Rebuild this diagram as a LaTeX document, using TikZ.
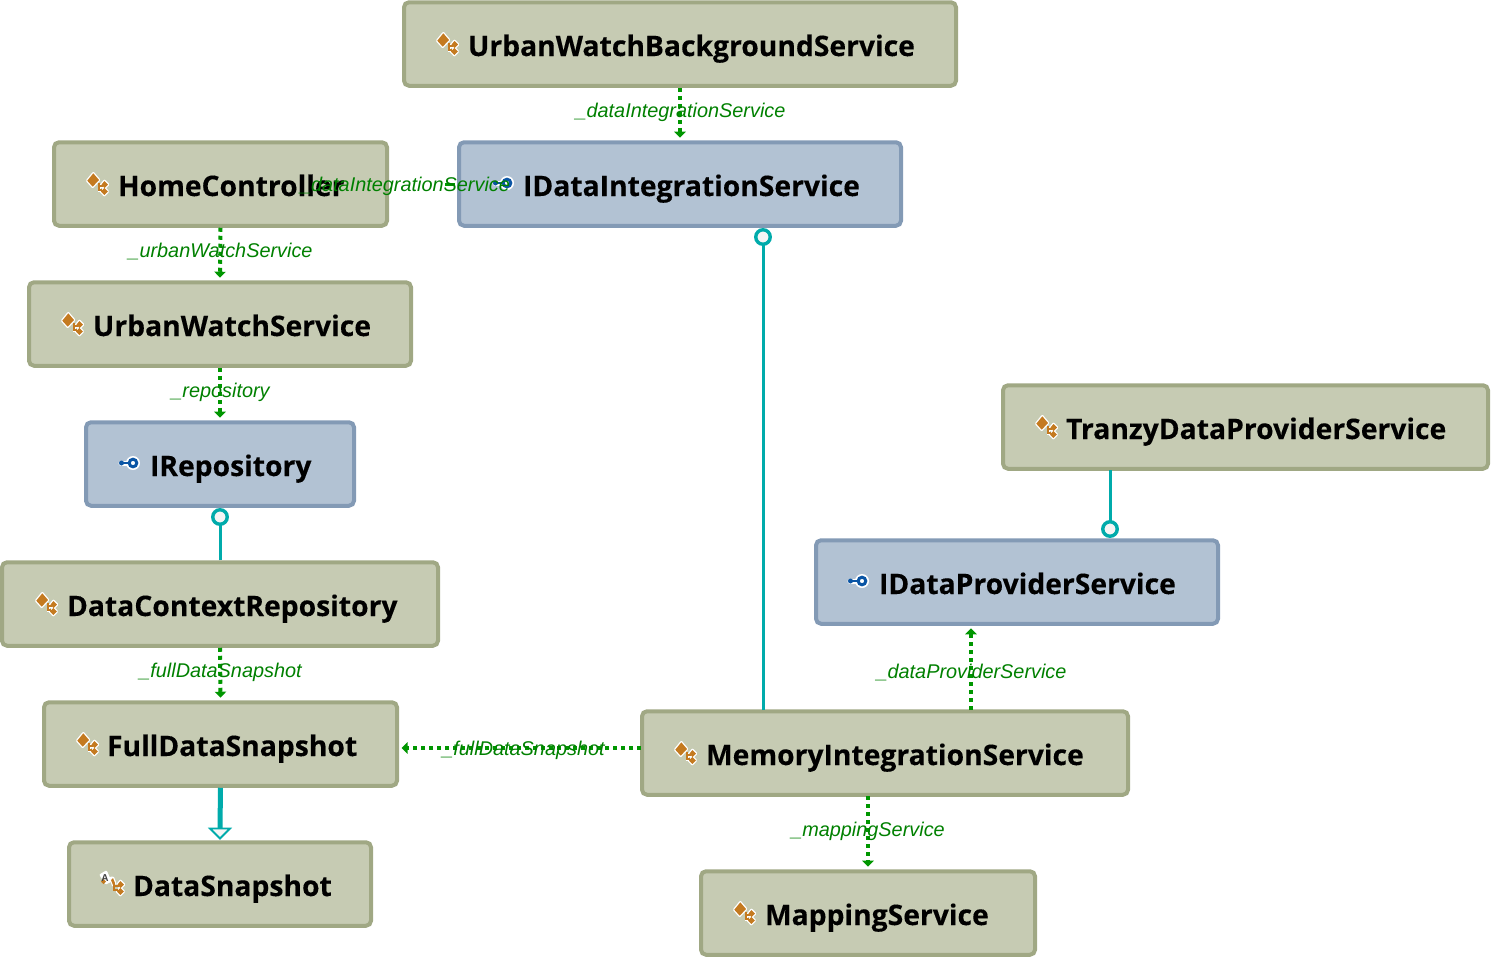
\documentclass[tikz,border=0pt]{standalone}
\usepackage{fontspec}
\setmainfont{Open Sans}[BoldFeatures={FakeBold=0.25}]
\newfontfamily\lblfont{Liberation Sans}
\usetikzlibrary{arrows.meta}
\definecolor{clsfill}{HTML}{C6CBB3}
\definecolor{clsline}{HTML}{A0A884}
\definecolor{ifcfill}{HTML}{B2C2D3}
\definecolor{ifcline}{HTML}{839AB5}
\definecolor{dep}{HTML}{009600}
\definecolor{lbl}{HTML}{008000}
\definecolor{teal}{HTML}{00ABAB}
\definecolor{icon}{HTML}{C47A20}
\definecolor{iblue}{HTML}{0A55A5}
\newlength{\px}\setlength{\px}{0.75pt}
\tikzset{
  x=\px,y=-\px,
  every node/.style={inner sep=0pt,outer sep=0pt},
  boxbase/.style={rectangle,rounded corners=5\px,line width=4\px,minimum height=83.5\px,outer sep=2\px},
  clsbox/.style={boxbase,draw=clsline,fill=clsfill},
  ifcbox/.style={boxbase,draw=ifcline,fill=ifcfill},
  title/.style={font=\bfseries\fontsize{21.2pt}{24pt}\selectfont,text=black,anchor=base west},
  deplabel/.style={font=\lblfont\itshape\fontsize{14.9pt}{16pt}\selectfont,text=lbl},
  depline/.style={draw=dep,line width=4\px,dash pattern=on 4\px off 4\px,shorten >=1.9pt,-{Triangle[width=8.5pt,length=4.5pt]}},
  hiddenline/.style={draw=dep,line width=3\px,dash pattern=on 0\px off 56\px on 10\px off 100\px},
  lollipop/.style={draw=teal,line width=3\px},
  lolli/.style={circle,draw=teal,fill=white!96!black,line width=3.4\px,minimum size=14.5\px},
  inherit/.style={draw=teal,line width=5\px},
  inhtip/.style={draw=teal,line width=1.8\px,fill=white!96!black,line join=miter},
}
\newcommand{\clsshapes}{%
    (-9.7,-3.3) -- (-3.7,-10.7) -- (2,-4) -- (-4.3,2.7) -- cycle
    (4.5,0.5) -- (7.5,-3) -- (11,0.5) -- (7.5,4) -- cycle
    (4,7.5) -- (7.3,4) -- (10.8,7.5) -- (7.3,11) -- cycle}
\newcommand{\clsicon}[2]{%
  \begin{scope}[shift={(#1,#2)}]
    \path[draw=white,fill=white,line width=2.6\px,line join=round] \clsshapes;
    \draw[white,line width=3\px] (2,0) -- (2,6) -- (5,6) (2,2) -- (6,2);
    \fill[icon] \clsshapes;
    \draw[icon,line width=1.2\px] (2,-1) -- (2,6) -- (5,6) (2,2) -- (6,2);
  \end{scope}}
\newcommand{\ifcicon}[2]{%
  \begin{scope}[shift={(#1,#2)}]
    \draw[white,line width=5\px,line cap=round] (-8,0) -- (-2,0);
    \fill[white] (4,0) circle (7\px);
    \draw[iblue,line width=2\px] (-8,0) -- (0,0);
    \fill[iblue] (-7.5,0) circle (2.5\px);
    \draw[iblue,line width=3\px,fill=white] (4,0) circle (3.8\px);
  \end{scope}}
\begin{document}
\begin{tikzpicture}
\useasboundingbox (0,0) rectangle (1491,957);
% boxes
\node[clsbox,minimum width=552\px] (ubs) at (680,44) {};
\node[ifcbox,minimum width=442\px] (idi) at (680,184) {};
\node[clsbox,minimum width=333\px] (hc) at (220.5,184) {};
\node[clsbox,minimum width=382\px] (uws) at (220,324) {};
\node[ifcbox,minimum width=268\px] (ir) at (220,464) {};
\node[clsbox,minimum width=436\px] (dcr) at (220,604) {};
\node[clsbox,minimum width=353\px] (fds) at (220.5,744) {};
\node[clsbox,minimum width=302\px] (ds) at (220,884) {};
\node[clsbox,minimum width=485\px] (tdp) at (1245.5,427) {};
\node[ifcbox,minimum width=402\px] (idp) at (1017,582) {};
\node[clsbox,minimum width=486\px] (mis) at (885,753) {};
\node[clsbox,minimum width=334\px] (ms) at (868,913) {};
% titles
\node[title] (t1) at (468,56) {UrbanWatchBackgroundService};
\node[title] (t2) at (523,196) {IDataIntegrationService};
\node[title] (t3) at (118,196) {HomeController};
\node[title] (t4) at (93,336) {UrbanWatchService};
\node[title] (t5) at (150,476) {IRepository};
\node[title] (t6) at (67,616) {DataContextRepository};
\node[title] (t7) at (107,756) {FullDataSnapshot};
\node[title] (t8) at (133,896) {DataSnapshot};
\node[title] (t9) at (1066,439) {TranzyDataProviderService};
\node[title] (t10) at (879,594) {IDataProviderService};
\node[title] (t11) at (706,765) {MemoryIntegrationService};
\node[title] (t12) at (765,925) {MappingService};
% icons
\clsicon{447}{44}\clsicon{97}{184}\clsicon{72}{324}\clsicon{46}{604}\clsicon{87}{744}
\clsicon{1046}{427}\clsicon{685}{753}\clsicon{744}{913}
\begin{scope}[shift={(113,884)}]
  \path[draw=white,fill=white,line width=2.6\px,line join=round] (-12,-9) -- (-7,-12) -- (-3,-3) -- (-7,-1) -- cycle (4.5,0.5) -- (7.5,-3) -- (11,0.5) -- (7.5,4) -- cycle (4,7.5) -- (7.3,4) -- (10.8,7.5) -- (7.3,11) -- cycle (-2,-6) -- (0,-6) -- (2,-1) -- (0,1) -- cycle;
  \fill[icon] (4.5,0.5) -- (7.5,-3) -- (11,0.5) -- (7.5,4) -- cycle (4,7.5) -- (7.3,4) -- (10.8,7.5) -- (7.3,11) -- cycle (-2,-4) -- (0,-6) -- (2,-1) -- (0,1) -- cycle (-12,-2.5) -- (-9.5,-5) -- (-7,-2.5) -- (-9.5,0) -- cycle;
  \draw[icon,line width=1.2\px] (1,-1) -- (1,6) -- (5,6) (1,2) -- (6,2);
\end{scope}
\node[font=\lblfont\bfseries\fontsize{7.5pt}{8pt}\selectfont,text=black!75] (dsA) at (105,878) {A};
\ifcicon{129}{463}\ifcicon{858}{581}\ifcicon{503}{183}
% connectors
\draw[depline] (ubs.south) -- (idi.north);
\draw[depline] (hc.south) -- (uws.north);
\draw[depline] (uws.south) -- (ir.north);
\draw[depline] (dcr.south) -- (fds.north);
\draw[hiddenline] (hc.east) -- (idi.west);
\coordinate (misL) at (641,748);
\draw[depline] (misL) -- (fds.east |- misL);
\coordinate (misT) at (971,710);
\draw[depline] (misT) -- (idp.south -| misT);
\coordinate (misB) at (868,796);
\draw[depline] (misB) -- (ms.north);
% lollipops
\node[lolli] (l1) at (763,237) {};
\coordinate (misT2) at (763,710);
\draw[lollipop] (misT2) -- (l1);
\node[lolli] (l2) at (220,517) {};
\draw[lollipop] (dcr.north) -- (l2);
\node[lolli] (l3) at (1110,529) {};
\coordinate (tdpB) at (1110,470);
\draw[lollipop] (tdpB) -- (l3);
% inheritance
\coordinate (tipA) at (220,828);
\draw[inherit] (fds.south) -- (tipA);
\draw[inhtip] (210,828.5) -- (230,828.5) -- (220,838.5) -- cycle;
% labels
\node[deplabel] (a) at (680.5,112) {\_dataIntegrationService};
\node[deplabel] (b) at (405,186) {\_dataIntegrationService};
\node[deplabel] (c) at (220.5,252) {\_urbanWatchService};
\node[deplabel] (d) at (220.5,392) {\_repository};
\node[deplabel] (e) at (220.5,672) {\_fullDataSnapshot};
\node[deplabel] (f) at (523.5,750) {\_fullDataSnapshot};
\node[deplabel] (g) at (971.5,673) {\_dataProviderService};
\node[deplabel] (h) at (868,831) {\_mappingService};
\end{tikzpicture}
\end{document}
